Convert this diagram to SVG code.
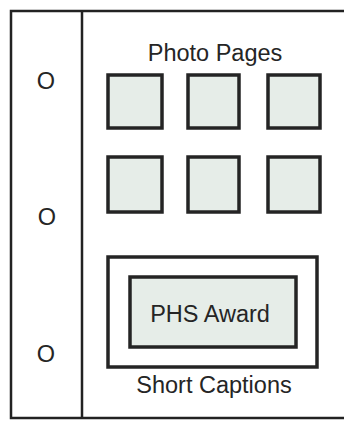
<svg xmlns="http://www.w3.org/2000/svg" width="344" height="423" viewBox="0 0 344 423">
<style>
.frame{fill:none;stroke:#222;stroke-width:2.5}
.sq{fill:#e6ede8;stroke:#242424;stroke-width:3.5}
.box{fill:#fff;stroke:#242424;stroke-width:3.5}
text{font-family:"Liberation Sans",Arial,sans-serif;font-size:23.5px;fill:#252525;text-anchor:middle}
</style>
<rect width="344" height="423" fill="#fff"/>
<g id="sheet">
<rect class="frame" x="11" y="11" width="340" height="407"/>
<line class="frame" x1="82" y1="11" x2="82" y2="418"/>
</g>
<g id="holes">
<text x="46" y="89" font-size="22">O</text>
<text x="47" y="225" font-size="22">O</text>
<text x="46" y="362" font-size="22">O</text>
</g>
<g id="title"><text x="215" y="61">Photo Pages</text></g>
<g id="photo1"><rect class="sq" x="108" y="75" width="54" height="53"/></g>
<g id="photo2"><rect class="sq" x="188" y="75" width="51" height="53"/></g>
<g id="photo3"><rect class="sq" x="268" y="75" width="52" height="53"/></g>
<g id="photo4"><rect class="sq" x="108" y="157" width="54" height="55"/></g>
<g id="photo5"><rect class="sq" x="188" y="157" width="51" height="55"/></g>
<g id="photo6"><rect class="sq" x="268" y="157" width="52" height="55"/></g>
<g id="caption-box"><rect class="box" x="108" y="257" width="209" height="110"/></g>
<g id="award"><rect class="sq" x="130" y="277" width="166" height="70"/><text x="210" y="322">PHS Award</text></g>
<g id="caption"><text x="214" y="393">Short Captions</text></g>
<g id="connectors"/>
</svg>
